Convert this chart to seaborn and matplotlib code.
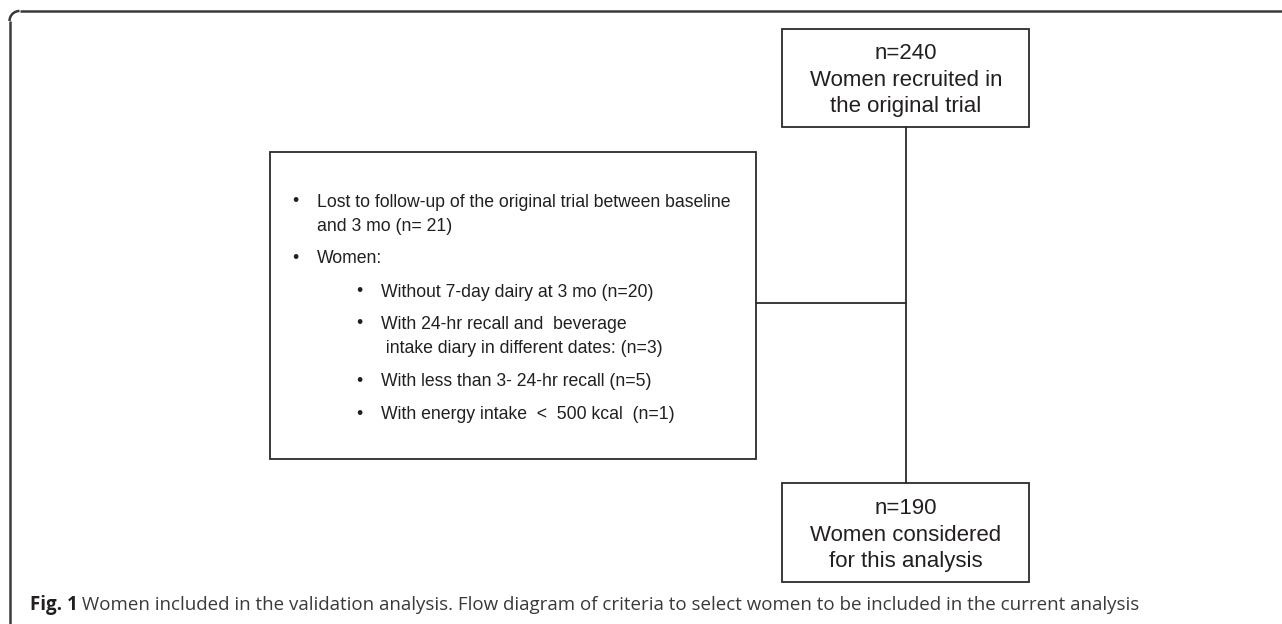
import matplotlib
matplotlib.use("Agg")
import matplotlib.pyplot as plt
from matplotlib.patches import Rectangle, Arc
import seaborn as sns

# counts shown in the flow diagram
n_recruited = 240
n_lost = 21
n_no_diary = 20
n_diff_dates = 3
n_few_recalls = 5
n_low_energy = 1
n_final = 190

top_label = ["n=%d" % n_recruited, "Women recruited in", "the original trial"]
bottom_label = ["n=%d" % n_final, "Women considered", "for this analysis"]
main_bullets = [
    ["Lost to follow-up of the original trial between baseline", "and 3 mo (n= %d)" % n_lost],
    ["Women:"],
]
sub_bullets = [
    ["Without 7-day dairy at 3 mo (n=%d)" % n_no_diary],
    ["With 24-hr recall and  beverage", " intake diary in different dates: (n=%d)" % n_diff_dates],
    ["With less than 3- 24-hr recall (n=%d)" % n_few_recalls],
    ["With energy intake  <  500 kcal  (n=%d)" % n_low_energy],
]
caption_bold = "Fig. 1"
caption_text = (" Women included in the validation analysis. Flow diagram of criteria "
                "to select women to be included in the current analysis")

sns.set_style("white")
plt.rcParams["font.family"] = ["Liberation Sans", "DejaVu Sans"]

W, H = 1282, 624
fig = plt.figure(figsize=(12.82, 6.24), dpi=100)
ax = fig.add_axes([0, 0, 1, 1])
ax.set_xlim(0, W)
ax.set_ylim(H, 0)
ax.axis("off")
fig.canvas.draw()
renderer = fig.canvas.get_renderer()

ink = "#231f20"
edge = "#2b2b2b"
frame = "#3a3a3a"


def width_px(txt, size, **kw):
    t = ax.text(0, 0, txt, fontsize=size, **kw)
    w = t.get_window_extent(renderer).width
    t.remove()
    return w


def fit_size(txt, target, **kw):
    return 10 * target / width_px(txt, 10, **kw)


# outer frame (top + left with rounded corner)
r = 10
ax.plot([9.5, 9.5], [H + 5, 11 + r], color=frame, lw=1.8, solid_capstyle="butt")
ax.plot([9.5 + r, W + 5], [11, 11], color=frame, lw=1.8, solid_capstyle="butt")
ax.add_patch(Arc((9.5 + r, 11 + r), 2 * r, 2 * r, theta1=180, theta2=270, color=frame, lw=1.8))

# boxes
for (x0, y0, x1, y1) in [(782, 29, 1029, 127), (270, 152, 756, 459), (782, 483, 1029, 582)]:
    ax.add_patch(Rectangle((x0, y0), x1 - x0, y1 - y0, fill=False, ec=edge, lw=1.3))

# connectors
ax.plot([906, 906], [127, 483], color=edge, lw=1.3)
ax.plot([756, 906], [303, 303], color=edge, lw=1.3)

# box texts
box_fs = fit_size("Women recruited in", 193.5)
for lines, ys in [(top_label, [59.3, 86, 112.3]), (bottom_label, [514, 540.7, 566.7])]:
    for txt, y in zip(lines, ys):
        ax.text(906, y, txt, ha="center", va="baseline", fontsize=box_fs, color=ink)

fs = fit_size(main_bullets[0][0], 416)
main_y = [[206.7, 230.7], [263.3]]
for lines, ys in zip(main_bullets, main_y):
    ax.text(295, ys[0] - 5, "\u2022", ha="center", va="center", fontsize=fs, color=ink)
    for txt, y in zip(lines, ys):
        ax.text(316.7, y, txt, ha="left", va="baseline", fontsize=fs, color=ink)

sub_y = [[296.7], [329, 353.3], [386], [419.3]]
for lines, ys in zip(sub_bullets, sub_y):
    ax.text(359, ys[0] - 5, "\u2022", ha="center", va="center", fontsize=fs, color=ink)
    for txt, y in zip(lines, ys):
        ax.text(381, y, txt, ha="left", va="baseline", fontsize=fs, color=ink)

# caption
cap_family = ["Open Sans", "DejaVu Sans"]
x_cap = 30
w_bold = width_px(caption_bold, 10, fontweight="bold", family=cap_family)
w_rest = width_px(caption_text, 10, family=cap_family)
cap_fs = 10 * (1141 - x_cap) / (w_bold + w_rest)
ax.text(x_cap, 610, caption_bold, ha="left", va="baseline", fontsize=cap_fs,
        fontweight="bold", color=ink, family=cap_family)
ax.text(x_cap + w_bold * cap_fs / 10, 610, caption_text, ha="left", va="baseline",
        fontsize=cap_fs, color="#3a3a3a", family=cap_family)

fig.savefig("out.png", dpi=100)
